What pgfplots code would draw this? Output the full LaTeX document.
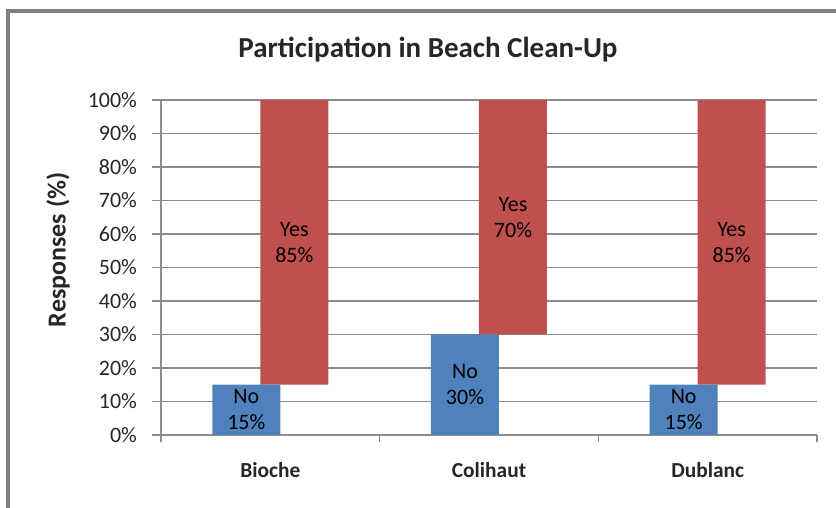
\documentclass[border=0pt]{standalone}
\usepackage{pgfplots}
\pgfplotsset{compat=1.18}
\usepackage{fontspec}
\setmainfont{Carlito}
\definecolor{exblue}{HTML}{4F81BD}
\definecolor{exred}{HTML}{C0504D}
\definecolor{gridc}{HTML}{8C8C8C}
\definecolor{txt}{HTML}{262626}
\definecolor{framec}{HTML}{7F7F7F}
\begin{document}
\begin{tikzpicture}
\path[use as bounding box] (-80.5pt,-36.5pt) rectangle (337.5pt,217.5pt);
\draw[framec, line width=1.6pt] (-76.5pt,-40pt) -- (-76.5pt,212pt) -- (345pt,212pt);
\begin{axis}[
  at={(0pt,0pt)}, anchor=south west,
  width=328pt, height=167.5pt, scale only axis,
  ybar stacked, bar width=34pt,
  xmin=-0.5, xmax=2.5, ymin=0, ymax=100,
  axis x line*=bottom, axis y line*=left,
  axis line style={gridc, line width=0.8pt, -},
  xtick={0,1,2}, xticklabels={Bioche,Colihaut,Dublanc},
  xticklabel style={font=\bfseries\fontsize{10.7}{12}\selectfont, text=txt, anchor=center, yshift=-13pt},
  major x tick style={draw=none},
  minor xtick={-0.5,0.5,1.5,2.5},
  ytick={0,10,...,100},
  yticklabel={\pgfmathprintnumber{\tick}\%},
  yticklabel style={font=\fontsize{11}{12}\selectfont, text=txt, anchor=east, xshift=-4pt},
  /pgf/number format/assume math mode=true,
  ymajorgrids, grid style={gridc, line width=0.8pt},
  tick align=outside, tick style={gridc, line width=0.8pt},
  major tick length=4.5pt, minor tick length=3.5pt,
  point meta=rawy,
  nodes near coords style={font=\fontsize{11}{13}\selectfont, text=black, align=center, anchor=center},
]
\addplot[fill=exblue, draw=none, bar shift=-12pt,
  nodes near coords={No\\\pgfmathprintnumber{\pgfplotspointmeta}\%}]
  coordinates {(0,15) (1,30) (2,15)};
\addplot[fill=exred, draw=none, bar shift=12pt,
  nodes near coords={Yes\\\pgfmathprintnumber{\pgfplotspointmeta}\%}]
  coordinates {(0,85) (1,70) (2,85)};
\end{axis}
\node[font=\bfseries\fontsize{14.5}{18}\selectfont, text=txt] at (133.5pt,192.5pt) {Participation in Beach Clean-Up};
\node[rotate=90, font=\bfseries\fontsize{13}{15}\selectfont, text=txt] at (-51.5pt,92.5pt) {Responses (\%)};
\end{tikzpicture}
\end{document}
